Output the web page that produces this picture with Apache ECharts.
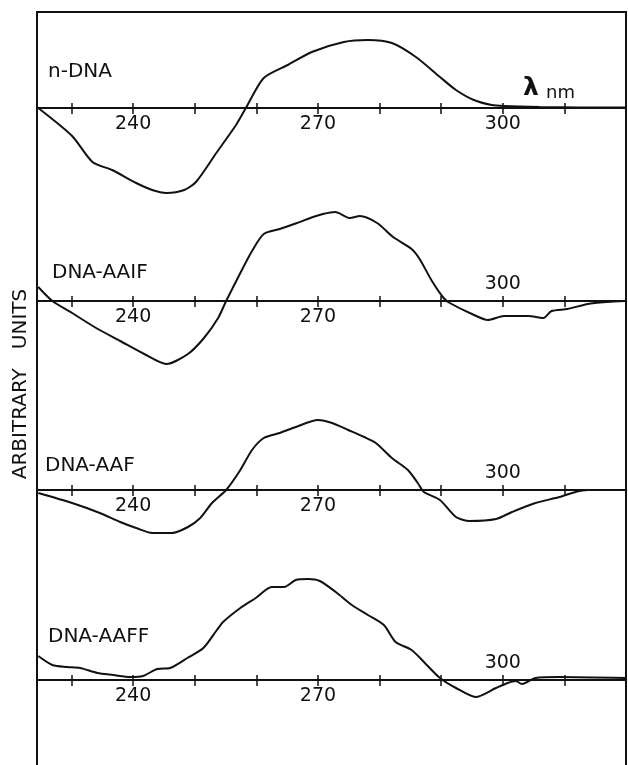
<!DOCTYPE html>
<html><head><meta charset="utf-8">
<script src="https://cdn.jsdelivr.net/npm/echarts@6/dist/echarts.min.js"></script>
<style>html,body{margin:0;padding:0;background:#fff}#c{width:628px;height:765px}</style>
</head><body><div id="c"></div>
<script>
// ---- data (wavelength in nm, CD signal in arbitrary units) ----
const panelNames = ['n-DNA', 'DNA-AAIF', 'DNA-AAF', 'DNA-AAFF'];
const tickValues = [230, 240, 250, 260, 270, 280, 290, 300, 310];
const labelsBelow = [[240, 270, 300], [240, 270], [240, 270], [240, 270]];
const labelsAbove = [[], [300], [300], [300]];

const nDNA_wl = [224.6, 230.1, 233.4, 236.6, 240.5, 243.1, 245.4, 248.3, 250.2, 253.5, 256.7, 258.3, 261.2, 265.1, 269.0, 274.2, 278.1, 282.0, 285.9, 289.8, 292.4, 295.3, 298.2, 300.2, 306.0, 312.5, 319.9];
const nDNA_cd = [0, -28, -54, -62, -75, -82, -85, -82, -74, -45, -17, 0, 30, 43, 56, 66, 68, 65, 51, 31, 18, 8, 3, 2, 1, 0.5, 0.5];

const AAIF_wl = [224.6, 226.9, 230.1, 234.0, 237.9, 241.8, 245.4, 248.9, 251.5, 253.8, 255.1, 257.4, 259.3, 261.2, 263.8, 266.6, 269.2, 270.8, 272.8, 275.2, 276.8, 279.6, 282.2, 285.2, 286.5, 288.5, 290.4, 291.4, 295.0, 297.6, 300.2, 304.1, 306.6, 307.9, 310.5, 313.8, 317.0, 319.9];
const AAIF_cd = [14, 0, -12, -27, -40, -53, -63, -53, -37, -17, 0, 28, 50, 67, 72, 78, 84, 87, 89, 83, 85, 78, 64, 52, 42, 20, 3, -2, -13, -19, -15, -15, -17, -10, -8, -3, -1, 0];

const AAF_wl = [224.6, 230.1, 234.6, 237.9, 240.5, 243.1, 246.3, 248.9, 250.9, 252.8, 255.1, 257.4, 259.3, 261.2, 263.8, 266.4, 270.0, 272.3, 274.9, 277.5, 279.4, 282.0, 284.6, 286.2, 287.2, 289.8, 292.4, 294.6, 298.9, 301.5, 305.3, 309.2, 311.8, 313.8, 319.9];
const AAF_cd = [-3, -13, -23, -32, -38, -43, -43, -37, -28, -13, 0, 20, 40, 52, 57, 63, 70, 67, 60, 53, 47, 32, 20, 7, -2, -10, -27, -31, -29, -22, -13, -7, -2, 0, 0];

const AAFF_wl = [224.6, 226.9, 229.3, 231.4, 234.2, 236.8, 239.5, 241.6, 243.9, 246.0, 248.8, 251.4, 253.6, 254.6, 257.4, 259.9, 262.5, 264.5, 266.4, 268.4, 270.3, 272.9, 275.5, 278.1, 280.7, 282.6, 285.2, 287.2, 289.8, 292.4, 295.6, 298.9, 300.8, 302.1, 303.1, 305.3, 309.2, 319.9];
const AAFF_cd = [24, 15, 13, 12, 7, 5, 3, 4, 11, 12, 22, 32, 50, 58, 72, 82, 93, 93, 100, 101, 99, 88, 75, 65, 55, 38, 30, 18, 2, -8, -17, -8, -3, -1, -4, 2, 3, 2];

const seriesWl = [nDNA_wl, AAIF_wl, AAF_wl, AAFF_wl];
const seriesCd = [nDNA_cd, AAIF_cd, AAF_cd, AAFF_cd];

// ---- layout ----
const INK = '#111';
const FONT = 'DejaVu Sans';
const gridTops = [13, 206, 395, 570];
const yRanges = [[-95, 95], [-95, 95], [-95, 95], [-80, 110]];
const titlePos = [[48, 72], [52, 273], [45, 466], [48, 637]];

const grids = [], xAxes = [], yAxes = [], series = [], graphics = [];
for (let i = 0; i < 4; i++) {
  const lo = yRanges[i][0], hi = yRanges[i][1];
  grids.push({ left: 37, right: 2, top: gridTops[i], height: hi - lo, outerBoundsMode: 'none' });
  // main axis: line + downward ticks + labels below, shifted from grid bottom up to the zero line
  xAxes.push({
    gridIndex: i, type: 'value', min: 224.4, max: 320, position: 'bottom', offset: lo,
    axisLine: { show: true, onZero: false, lineStyle: { color: INK, width: 2 } },
    axisTick: { show: true, customValues: tickValues, length: 6, lineStyle: { color: INK, width: 1.5 } },
    axisLabel: { show: true, customValues: labelsBelow[i], margin: 7, color: INK, fontSize: 19, fontFamily: FONT },
    splitLine: { show: false }
  });
  // companion axis: upward ticks + labels above, shifted from grid top down to the zero line
  xAxes.push({
    gridIndex: i, type: 'value', min: 224.4, max: 320, position: 'top', offset: -hi,
    axisLine: { show: false, onZero: false },
    axisTick: { show: true, customValues: tickValues, length: 5, lineStyle: { color: INK, width: 1.5 } },
    axisLabel: { show: labelsAbove[i].length > 0, customValues: labelsAbove[i].length ? labelsAbove[i] : [300], margin: 7, color: INK, fontSize: 19, fontFamily: FONT },
    splitLine: { show: false }
  });
  yAxes.push({ gridIndex: i, type: 'value', min: lo, max: hi, show: false, axisLine: { onZero: false } });
  series.push({
    type: 'line', xAxisIndex: 2 * i, yAxisIndex: i,
    data: seriesWl[i].map((w, k) => [w, seriesCd[i][k]]),
    showSymbol: false, smooth: 0.25, clip: false,
    lineStyle: { color: INK, width: 2 }, silent: true
  });
  graphics.push({
    type: 'text', x: titlePos[i][0], y: titlePos[i][1],
    style: { text: panelNames[i], fill: INK, font: '20px "DejaVu Sans"', align: 'left', verticalAlign: 'middle' }
  });
}

graphics.push({ type: 'rect', shape: { x: 37, y: 12, width: 589, height: 800 }, style: { fill: 'none', stroke: INK, lineWidth: 2 } });
graphics.push({ type: 'text', x: 21, y: 384, rotation: Math.PI / 2,
  style: { text: 'ARBITRARY   UNITS', fill: INK, font: '20px "DejaVu Sans"', align: 'center', verticalAlign: 'middle' } });
graphics.push({ type: 'text', x: 523, y: 88,
  style: { text: 'λ', fill: INK, font: 'bold 25px "DejaVu Sans"', align: 'left', verticalAlign: 'middle' } });
graphics.push({ type: 'text', x: 546, y: 93,
  style: { text: 'nm', fill: INK, font: '18px "DejaVu Sans"', align: 'left', verticalAlign: 'middle' } });

const chart = echarts.init(document.getElementById('c'), null, { renderer: 'canvas' });
chart.setOption({
  animation: false,
  backgroundColor: '#fff',
  grid: grids, xAxis: xAxes, yAxis: yAxes, series: series,
  graphic: graphics
});
</script></body></html>
